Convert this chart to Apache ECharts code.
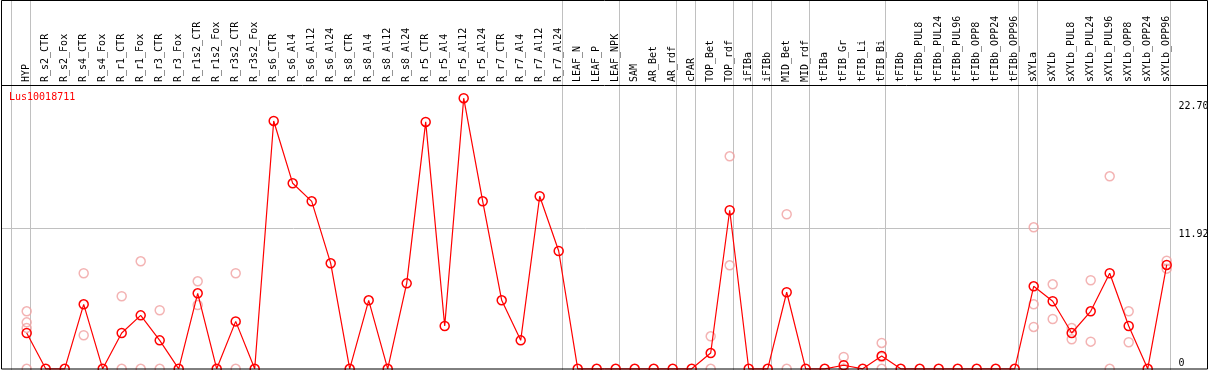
<!DOCTYPE html>
<html><head><meta charset="utf-8">
<script src="https://cdn.jsdelivr.net/npm/echarts@6/dist/echarts.min.js"></script>
<style>html,body{margin:0;padding:0;background:#fff;overflow:hidden}#c{width:1209px;height:370px}</style>
</head><body><div id="c"></div>
<script>
const geneName = 'Lus10018711';
const categories = ['HYP','R_s2_CTR','R_s2_Fox','R_s4_CTR','R_s4_Fox','R_r1_CTR','R_r1_Fox','R_r3_CTR','R_r3_Fox','R_r1s2_CTR','R_r1s2_Fox','R_r3s2_CTR','R_r3s2_Fox',
  'R_s6_CTR','R_s6_Al4','R_s6_Al12','R_s6_Al24','R_s8_CTR','R_s8_Al4','R_s8_Al12','R_s8_Al24','R_r5_CTR','R_r5_Al4','R_r5_Al12','R_r5_Al24','R_r7_CTR','R_r7_Al4','R_r7_Al12','R_r7_Al24',
  'LEAF_N','LEAF_P','LEAF_NPK','SAM','AR_Bet','AR_rdf','cPAR','TOP_Bet','TOP_rdf','iFIBa','iFIBb','MID_Bet','MID_rdf','tFIBa','tFIB_Gr','tFIB_Li','tFIB_Bi',
  'tFIBb','tFIBb_PUL8','tFIBb_PUL24','tFIBb_PUL96','tFIBb_OPP8','tFIBb_OPP24','tFIBb_OPP96','sXYLa','sXYLb','sXYLb_PUL8','sXYLb_PUL24','sXYLb_PUL96','sXYLb_OPP8','sXYLb_OPP24','sXYLb_OPP96'];
const meanValues = [3.02,0,0,5.44,0,3.02,4.51,2.40,0,6.37,0,4.00,0,
  20.91,15.65,14.13,8.90,0,5.78,0,7.21,20.83,3.61,22.83,14.13,5.78,2.40,14.56,9.94,
  0,0,0,0,0,0,0,1.33,13.38,0,0,6.46,0,0,0.30,0,1.08,
  0,0,0,0,0,0,0,6.96,5.70,3.02,4.85,8.06,3.61,0,8.76];
const repCategories = ['HYP','R_s4_CTR','R_r1_CTR','R_r1_Fox','R_r3_CTR','R_r1s2_CTR','R_r3s2_CTR','TOP_Bet','TOP_rdf','MID_Bet','tFIB_Gr','tFIB_Bi',
  'sXYLa','sXYLb','sXYLb_PUL8','sXYLb_PUL24','sXYLb_PUL96','sXYLb_OPP8','sXYLb_OPP96'];
const repValues = [[4.85,3.92,3.45,0],[8.06,2.83],[6.12,0],[9.07,0],[4.94,0],[7.38,5.38],[8.06,0],[2.74,0],[17.93,8.73],[13.04,0],[1.00,0,0],[2.18,1.00,0],
  [11.94,5.44,3.53],[7.13,4.20],[3.44,2.49],[7.47,2.29],[16.24,0],[4.85,2.24],[9.12,8.45]];
const yTickValues = [0, 11.92, 22.70];
const yTickLabels = ['0', '11.92', '22.70'];
const groupEnds = [-1, 0, 28, 31, 34, 35, 37, 38, 39, 41, 45, 52, 53, 60];

const FONT = '"DejaVu Sans Mono", monospace';
const repData = [];
repCategories.forEach((c, k) => {
  const i = categories.indexOf(c);
  repValues[k].forEach(v => repData.push([i, v]));
});

const chart = echarts.init(document.getElementById('c'), null, {renderer: 'canvas'});
chart.setOption({
  animation: false,
  grid: {left: 26.7, right: 42.3, top: 86, bottom: 1.2},
  xAxis: {type: 'category', data: categories, boundaryGap: false, position: 'top',
    axisLine: {show: false}, axisTick: {show: false}, splitLine: {show: false},
    axisLabel: {rotate: 90, interval: 0, margin: 4, fontFamily: FONT, fontSize: 10, color: '#000'}},
  yAxis: {type: 'value', min: 0, max: 23.86, show: false, splitLine: {show: false}},
  series: [
    {type: 'scatter', data: repData, symbol: 'circle', symbolSize: 9, z: 2, clip: false,
      itemStyle: {color: 'rgba(0,0,0,0)', borderColor: '#f0a0a0', borderWidth: 1.5}},
    {type: 'line', data: meanValues, symbol: 'circle', symbolSize: 9, showAllSymbol: true, z: 3, clip: false,
      lineStyle: {color: '#ff0000', width: 1.2},
      itemStyle: {color: 'rgba(0,0,0,0)', borderColor: '#ff0000', borderWidth: 1.5}}
  ]
});

const px = i => chart.convertToPixel({xAxisIndex: 0}, categories[i]);
const step = px(1) - px(0);
const xAt = f => px(0) + f * step;
const yPix = v => chart.convertToPixel({yAxisIndex: 0}, v);
const W = 1209, H = 370;
const els = [];
const sepX = groupEnds.map(k => Math.round(xAt(k + 0.18)) + 0.5);
sepX.forEach(x => els.push({type: 'line', z: 0, shape: {x1: x, y1: 0, x2: x, y2: H}, style: {stroke: '#c0c0c0', lineWidth: 1}}));
const gy = Math.round(yPix(11.92)) + 0.5;
els.push({type: 'line', z: 0, shape: {x1: 1, y1: gy, x2: sepX[sepX.length - 1], y2: gy}, style: {stroke: '#c0c0c0', lineWidth: 1}});
// frame
els.push({type: 'rect', z: 10, shape: {x: 1.5, y: 0.5, width: W - 3, height: H - 1.5}, style: {fill: null, stroke: '#000', lineWidth: 1}});
els.push({type: 'line', z: 10, shape: {x1: 1, y1: 85.5, x2: W - 1, y2: 85.5}, style: {stroke: '#000', lineWidth: 1}});
// y labels
const labX = sepX[sepX.length - 1] + 8;
yTickValues.forEach((v, k) => {
  const y = yPix(v);
  els.push({type: 'text', z: 10, x: labX, y: v === 0 ? y : y + 2,
    style: {text: yTickLabels[k], fill: '#000', font: '10px ' + FONT, textAlign: 'left', textVerticalAlign: v === 0 ? 'bottom' : 'top'}});
});
els.push({type: 'text', z: 10, x: 9, y: 97, style: {text: geneName, fill: '#ff0000', font: '10px ' + FONT, textAlign: 'left', textVerticalAlign: 'middle'}});
chart.setOption({graphic: {elements: els}});
</script>
</body></html>
